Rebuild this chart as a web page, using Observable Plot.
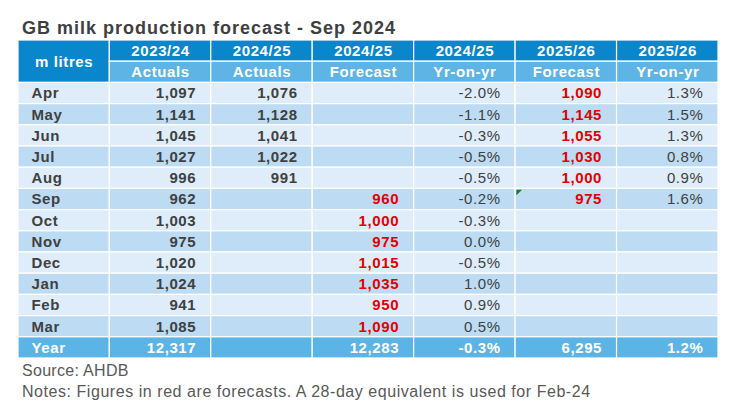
<!DOCTYPE html>
<html><head><meta charset="utf-8">
<script src="https://cdn.jsdelivr.net/npm/d3@7"></script>
<script src="https://cdn.jsdelivr.net/npm/@observablehq/plot@0.6"></script>
<style>
body{margin:0;background:#fff;width:730px;height:418px;position:relative;overflow:hidden;font-family:"Liberation Sans",Arial,sans-serif;}
#title{position:absolute;left:22px;top:19px;font-size:18px;font-weight:bold;color:#404040;line-height:18px;letter-spacing:1px;white-space:nowrap}
#chart{position:absolute;left:0;top:40px;}
.note{position:absolute;left:22px;font-size:16px;color:#595959;line-height:16px;white-space:nowrap;letter-spacing:0.3px}
</style></head><body>
<div id="title">GB milk production forecast - Sep 2024</div>
<div id="chart"></div>
<div class="note" style="top:363px">Source: AHDB</div>
<div class="note" style="top:384px;letter-spacing:0.55px">Notes: Figures in red are forecasts. A 28-day equivalent is used for Feb-24</div>
<script>
// ---- data ----
const months = ["Apr","May","Jun","Jul","Aug","Sep","Oct","Nov","Dec","Jan","Feb","Mar"];
const actuals2324 = [1097,1141,1045,1027,996,962,1003,975,1020,1024,941,1085];
const actuals2425 = [1076,1128,1041,1022,991,null,null,null,null,null,null,null];
const forecast2425 = [null,null,null,null,null,960,1000,975,1015,1035,950,1090];
const yoy2425 = [-2.0,-1.1,-0.3,-0.5,-0.5,-0.2,-0.3,0.0,-0.5,1.0,0.9,0.5];
const forecast2526 = [1090,1145,1055,1030,1000,975,null,null,null,null,null,null];
const yoy2526 = [1.3,1.5,1.3,0.8,0.9,1.6,null,null,null,null,null,null];
const columnYears = ["2023/24","2024/25","2024/25","2024/25","2025/26","2025/26"];
const columnKinds = ["Actuals","Actuals","Forecast","Yr-on-yr","Forecast","Yr-on-yr"];
const yearTotals = [12317,null,12283,-0.3,6295,1.2];
const unitLabel = "m litres";
const totalLabel = "Year";
const commentCells = [{month:"Sep", column:5}];

// ---- layout (not data) ----
const colWidths = [0.9,1,1,1,1,1,1];
const edges = [0]; colWidths.forEach(w => edges.push(edges[edges.length-1] + w));
const nRows = 2 + months.length + 1;
const C = {dark:"#0a86cc", light:"#5db4e5", rowA:"#deedf9", rowB:"#bddcf3", total:"#5cb3e6", text:"#404040", red:"#e30000", white:"#ffffff"};
const series = [actuals2324, actuals2425, forecast2425, yoy2425, forecast2526, yoy2526];
const isPct = [false,false,false,true,false,true];
const isRed = [false,false,true,false,true,false];
const fmtNum = d3.format(",");
const fmtPct = v => (v < 0 ? "-" : "") + Math.abs(v).toFixed(1) + "%";
const fmt = (v, c) => v == null ? "" : (isPct[c] ? fmtPct(v) : fmtNum(v));

// cells
const cells = [];
cells.push({x1:edges[0], x2:edges[1], y1:0, y2:2, fill:C.dark});
for (let c = 0; c < 6; c++) {
  cells.push({x1:edges[c+1], x2:edges[c+2], y1:0, y2:1, fill:C.dark});
  cells.push({x1:edges[c+1], x2:edges[c+2], y1:1, y2:2, fill:C.light});
}
months.forEach((m, i) => {
  for (let c = 0; c < 7; c++) cells.push({x1:edges[c], x2:edges[c+1], y1:i+2, y2:i+3, fill: i % 2 === 0 ? C.rowA : C.rowB});
});
for (let c = 0; c < 7; c++) cells.push({x1:edges[c], x2:edges[c+1], y1:nRows-1, y2:nRows, fill:C.total});

// texts
const headTexts = [];
columnYears.forEach((t, c) => headTexts.push({x:(edges[c+1]+edges[c+2])/2, y:0.5, t}));
columnKinds.forEach((t, c) => headTexts.push({x:(edges[c+1]+edges[c+2])/2, y:1.5, t}));
headTexts.push({x:(edges[0]+edges[1])/2, y:1, t:unitLabel});

const rowLabels = months.map((m, i) => ({x:edges[0], y:i+2.5, t:m, fill:C.text}));
rowLabels.push({x:edges[0], y:nRows-0.5, t:totalLabel, fill:C.white});

const boldVals = [], normVals = [];
months.forEach((m, i) => {
  series.forEach((s, c) => {
    const v = s[i];
    if (v == null) return;
    const d = {x:edges[c+2], y:i+2.5, t:fmt(v, c), fill: isRed[c] ? C.red : C.text};
    (isPct[c] ? normVals : boldVals).push(d);
  });
});
yearTotals.forEach((v, c) => {
  if (v == null) return;
  boldVals.push({x:edges[c+2], y:nRows-0.5, t:fmt(v, c), fill:C.white});
});

const cornerSymbol = {draw(ctx, size) { const s = Math.sqrt(size); ctx.moveTo(0,0); ctx.lineTo(s,0); ctx.lineTo(0,s); ctx.closePath(); }};

const font = "'Liberation Sans', Arial, sans-serif";
const plot = Plot.plot({
  width: 730, height: 318,
  marginLeft: 18, marginRight: 12, marginTop: 0, marginBottom: 0,
  x: {domain:[0, edges[7]], range:[18, 718], axis:null},
  y: {domain:[0, nRows], range:[0, 318], axis:null},
  color: {type:"identity"},
  style: {fontFamily: font, letterSpacing: "0.6px", background: "white", overflow: "visible"},
  marks: [
    Plot.rect(cells, {x1:"x1", x2:"x2", y1:"y1", y2:"y2", fill:"fill", stroke:"white", strokeWidth:1.2}),
    Plot.text(headTexts, {x:"x", y:"y", text:"t", fill:"white", fontWeight:"bold", fontSize:15, fontFamily:font}),
    Plot.text(rowLabels, {x:"x", y:"y", text:"t", fill:"fill", fontWeight:"bold", fontSize:15, textAnchor:"start", dx:13, fontFamily:font}),
    Plot.text(boldVals, {x:"x", y:"y", text:"t", fill:"fill", fontWeight:"bold", fontSize:15, textAnchor:"end", dx:-15, fontFamily:font}),
    Plot.text(normVals, {x:"x", y:"y", text:"t", fill:"fill", fontSize:15, textAnchor:"end", dx:-15, fontFamily:font}),
    Plot.dot(commentCells, {x: d => edges[d.column], y: d => months.indexOf(d.month) + 2, symbol: cornerSymbol, r: 3.2, fill: "#1e7b1e", dx: 0.8, dy: 0.8})
  ]
});
document.getElementById("chart").appendChild(plot);
</script>
</body></html>
